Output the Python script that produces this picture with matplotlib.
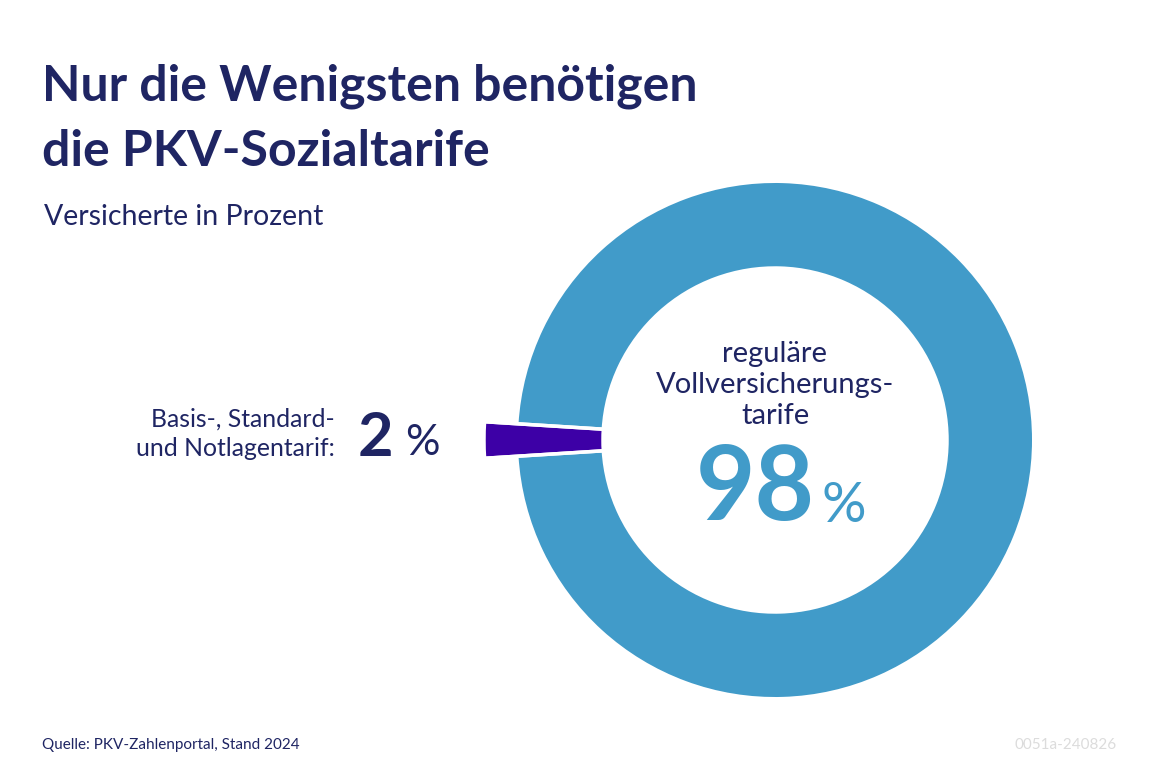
import matplotlib.pyplot as plt

# data
labels = ['Basis-, Standard- und Notlagentarif', 'reguläre Vollversicherungstarife']
shares = [2, 98]

navy = '#1f2563'
blue = '#419bc9'
violet = '#3d00a6'

plt.rcParams['font.family'] = ['Lato', 'DejaVu Sans']

fig = plt.figure(figsize=(11.49, 7.66), dpi=100)
ax = fig.add_axes([0, 0, 1, 1])

cx, cy = 775, 440
start = 180 - shares[0] / 100 * 360 / 2

# main ring
ax.pie(shares, colors=['none', blue], startangle=start, counterclock=True,
       radius=257, center=(cx, cy), wedgeprops=dict(width=85, linewidth=0))
# highlighted small share, sticking out
ax.pie(shares, colors=[violet, 'none'], startangle=start, counterclock=True,
       radius=291, center=(cx, cy),
       wedgeprops=dict(width=291 - 172, edgecolor='white', linewidth=2.5))

ax.set_xlim(0, 1149)
ax.set_ylim(766, 0)
ax.set_aspect('equal')
ax.axis('off')

ax.text(42, 86, 'Nur die Wenigsten benötigen', fontsize=36, fontweight='bold', color=navy, va='center')
ax.text(42, 152, 'die PKV-Sozialtarife', fontsize=36, fontweight='bold', color=navy, va='center')
ax.text(44, 217, 'Versicherte in Prozent', fontsize=20.5, color=navy, va='center')

ax.text(335, 434, 'Basis-, Standard-\nund Notlagentarif:', fontsize=17.8, color=navy,
        ha='right', va='center', linespacing=1.35)
ax.text(358, 438, f'{shares[0]}', fontsize=44, fontweight='bold', color=navy, va='center')
ax.text(405, 443, '%', fontsize=31, color=navy, va='center')

ax.text(775, 385, 'reguläre\nVollversicherungs-\ntarife', fontsize=21, color=navy,
        ha='center', va='center', linespacing=1.25)
ax.text(815, 490, f'{shares[1]}', fontsize=74, fontweight='bold', color=blue, ha='right', va='center')
ax.text(822, 506, '%', fontsize=40, color=blue, va='center')

ax.text(42, 745, 'Quelle: PKV-Zahlenportal, Stand 2024', fontsize=11, color=navy, va='center')
ax.text(1117, 745, '0051a-240826', fontsize=11, color='#dcdcdc', ha='right', va='center')

fig.savefig('out.png', dpi=100)
